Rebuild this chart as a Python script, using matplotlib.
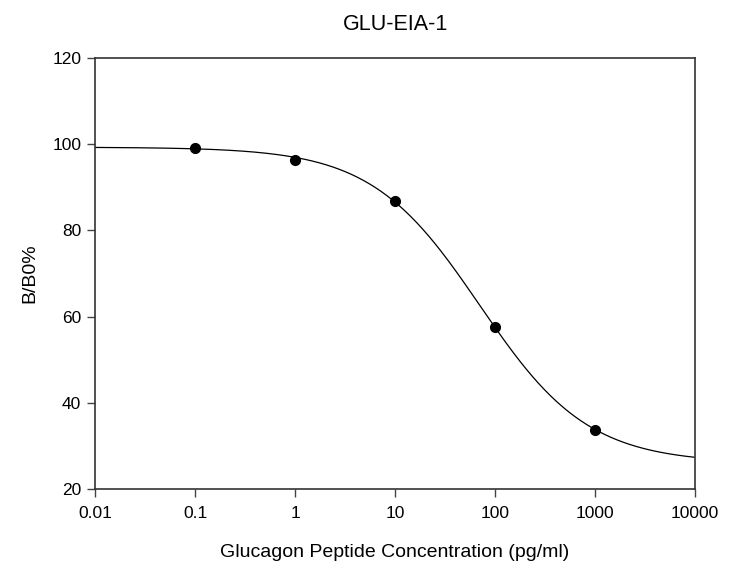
import numpy as np
import matplotlib
matplotlib.use("Agg")
import matplotlib.pyplot as plt

plt.rcParams['font.family'] = ['Liberation Sans', 'DejaVu Sans']

# measured points
conc = [0.1, 1, 10, 100, 1000]
bb0 = [99.2, 96.3, 86.7, 57.5, 33.8]

# 4-parameter logistic fit shown as the line
top, bottom, ec50, hill = 99.3, 26.0, 70.2, 0.80

x_ticks = [0.01, 0.1, 1, 10, 100, 1000, 10000]
x_labels = ['0.01', '0.1', '1', '10', '100', '1000', '10000']
y_ticks = [20, 40, 60, 80, 100, 120]

fig = plt.figure(figsize=(7.5, 5.68), dpi=100)
ax = fig.add_axes([0.1267, 0.139, 0.8, 0.759])

xs = np.logspace(-2, 4, 400)
ys = bottom + (top - bottom) / (1 + (xs / ec50) ** hill)
ax.plot(xs, ys, color='black', lw=0.9)
ax.plot(conc, bb0, 'o', color='black', ms=7)

ax.set_xscale('log')
ax.set_xlim(0.01, 10000)
ax.set_ylim(20, 120)
ax.set_xticks(x_ticks)
ax.set_xticklabels(x_labels)
ax.minorticks_off()
ax.set_yticks(y_ticks)
ax.tick_params(direction='out', length=6, width=1, labelsize=12.5, color='#444444')
ax.tick_params(axis='x', pad=6)
ax.tick_params(axis='y', pad=4)
for s in ax.spines.values():
    s.set_linewidth(1.2)
    s.set_color('#333333')

ax.set_xlabel('Glucagon Peptide Concentration (pg/ml)', fontsize=14, labelpad=17)
ax.set_ylabel('B/B0%', fontsize=14, labelpad=10)
ax.set_title('GLU-EIA-1', fontsize=15.5, pad=20)

fig.savefig('out.png', dpi=100)
